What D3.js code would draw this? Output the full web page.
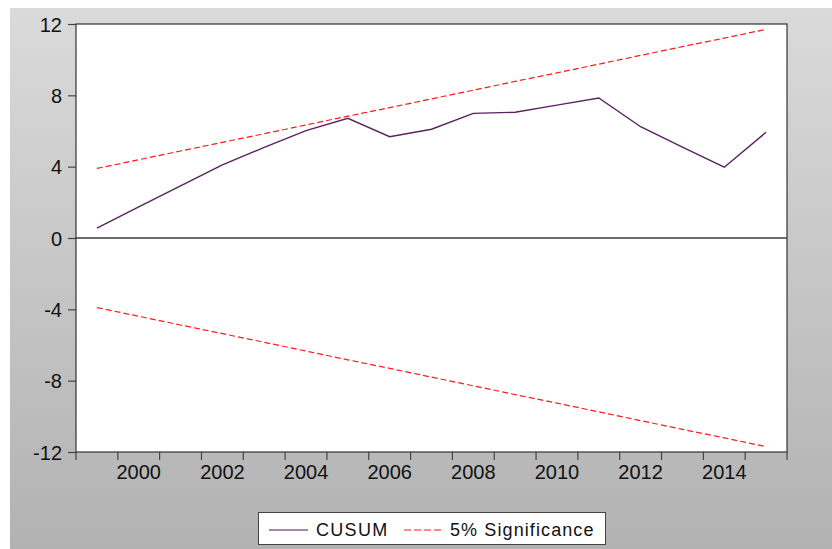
<!DOCTYPE html>
<html><head><meta charset="utf-8">
<script src="https://cdn.jsdelivr.net/npm/d3@7"></script>
<style>body{margin:0;background:#fff}svg{display:block}text{font-family:"Liberation Sans",Arial,sans-serif}</style>
</head><body><svg id="c" width="832" height="549"></svg>
<script>
const years = [1999,2000,2001,2002,2003,2004,2005,2006,2007,2008,2009,2010,2011,2012,2013,2014,2015];
const cusum = [0.56,1.75,2.92,4.10,5.08,6.02,6.71,5.68,6.10,6.99,7.05,7.45,7.85,6.24,5.10,3.97,5.93];
const upper = [3.90,4.39,4.88,5.36,5.85,6.34,6.83,7.31,7.80,8.29,8.78,9.26,9.75,10.24,10.73,11.21,11.70];
const lower = [-3.90,-4.39,-4.88,-5.36,-5.85,-6.34,-6.83,-7.31,-7.80,-8.29,-8.78,-9.26,-9.75,-10.24,-10.73,-11.21,-11.70];
const yTicks = [-12,-8,-4,0,4,8,12];
const xLabels = [2000,2002,2004,2006,2008,2010,2012,2014];
const seriesNames = ["CUSUM","5% Significance"];

const svg = d3.select("#c");
const defs = svg.append("defs");
const g = defs.append("linearGradient").attr("id","bg").attr("x1",0).attr("y1",0).attr("x2",0).attr("y2",1);
g.append("stop").attr("offset","0%").attr("stop-color","#dadada");
g.append("stop").attr("offset","100%").attr("stop-color","#b2b2b2");
svg.append("rect").attr("x",10).attr("y",8).attr("width",822).attr("height",541).attr("fill","url(#bg)");

const L=76,R=787,T=24,B=452;
const x = d3.scaleBand().domain(years).range([L,R]).padding(0);
const y = d3.scaleLinear().domain([-12,12]).range([B,T]);
const cx = d => x(d)+x.bandwidth()/2;

svg.append("rect").attr("x",L).attr("y",T).attr("width",R-L).attr("height",B-T).attr("fill","#fff");

// zero line
svg.append("line").attr("x1",L).attr("x2",R).attr("y1",y(0)).attr("y2",y(0)).attr("stroke","#6e6e6e").attr("stroke-width",2);

// y axis
const ya = svg.append("g").attr("transform",`translate(${L},0)`)
  .call(d3.axisLeft(y).tickValues(yTicks).tickSize(8).tickSizeOuter(0).tickPadding(6).tickFormat(d => String(d)));
ya.select(".domain").remove();
ya.selectAll(".tick line").attr("stroke","#444").attr("stroke-width",1.2);
ya.selectAll("text").attr("font-size",20).attr("fill","#111").attr("dy","0.36em");

// x axis labels
const xa = svg.append("g").attr("transform",`translate(0,${B})`)
  .call(d3.axisBottom(x).tickValues(xLabels).tickSize(0).tickPadding(13));
xa.select(".domain").remove();
xa.selectAll("text").attr("font-size",20).attr("fill","#111");
// x boundary ticks
const bounds = years.map(d=>x(d)).concat([R]);
svg.append("g").selectAll("line").data(bounds).join("line")
  .attr("x1",d=>d).attr("x2",d=>d).attr("y1",B).attr("y2",B+8).attr("stroke","#444").attr("stroke-width",1.2);

// frame
svg.append("rect").attr("x",L).attr("y",T).attr("width",R-L).attr("height",B-T).attr("fill","none").attr("stroke","#333").attr("stroke-width",1.2);

const line = d3.line().x((d,i)=>cx(years[i])).y(d=>y(d));
svg.append("path").datum(upper).attr("d",line).attr("fill","none").attr("stroke","#ff1a1a").attr("stroke-width",1.2).attr("stroke-dasharray","6,3");
svg.append("path").datum(lower).attr("d",line).attr("fill","none").attr("stroke","#ff1a1a").attr("stroke-width",1.2).attr("stroke-dasharray","6,3");
svg.append("path").datum(cusum).attr("d",line).attr("fill","none").attr("stroke","#5a2260").attr("stroke-width",1.4);

// legend
const lg = svg.append("g");
lg.append("rect").attr("x",258.5).attr("y",512.5).attr("width",347).attr("height",32).attr("fill","#fff").attr("stroke","#444").attr("stroke-width",1);
lg.append("line").attr("x1",269).attr("x2",308).attr("y1",530).attr("y2",530).attr("stroke","#4a0f4f").attr("stroke-width",1.2);
lg.append("text").attr("x",316).attr("y",536).attr("font-size",18).attr("letter-spacing","1.3px").attr("fill","#111").text(seriesNames[0]);
lg.append("line").attr("x1",404).attr("x2",444).attr("y1",530).attr("y2",530).attr("stroke","#ff1a1a").attr("stroke-width",1.2).attr("stroke-dasharray","7,3");
lg.append("text").attr("x",450).attr("y",536).attr("font-size",18).attr("letter-spacing","1.1px").attr("fill","#111").text(seriesNames[1]);
</script></body></html>
